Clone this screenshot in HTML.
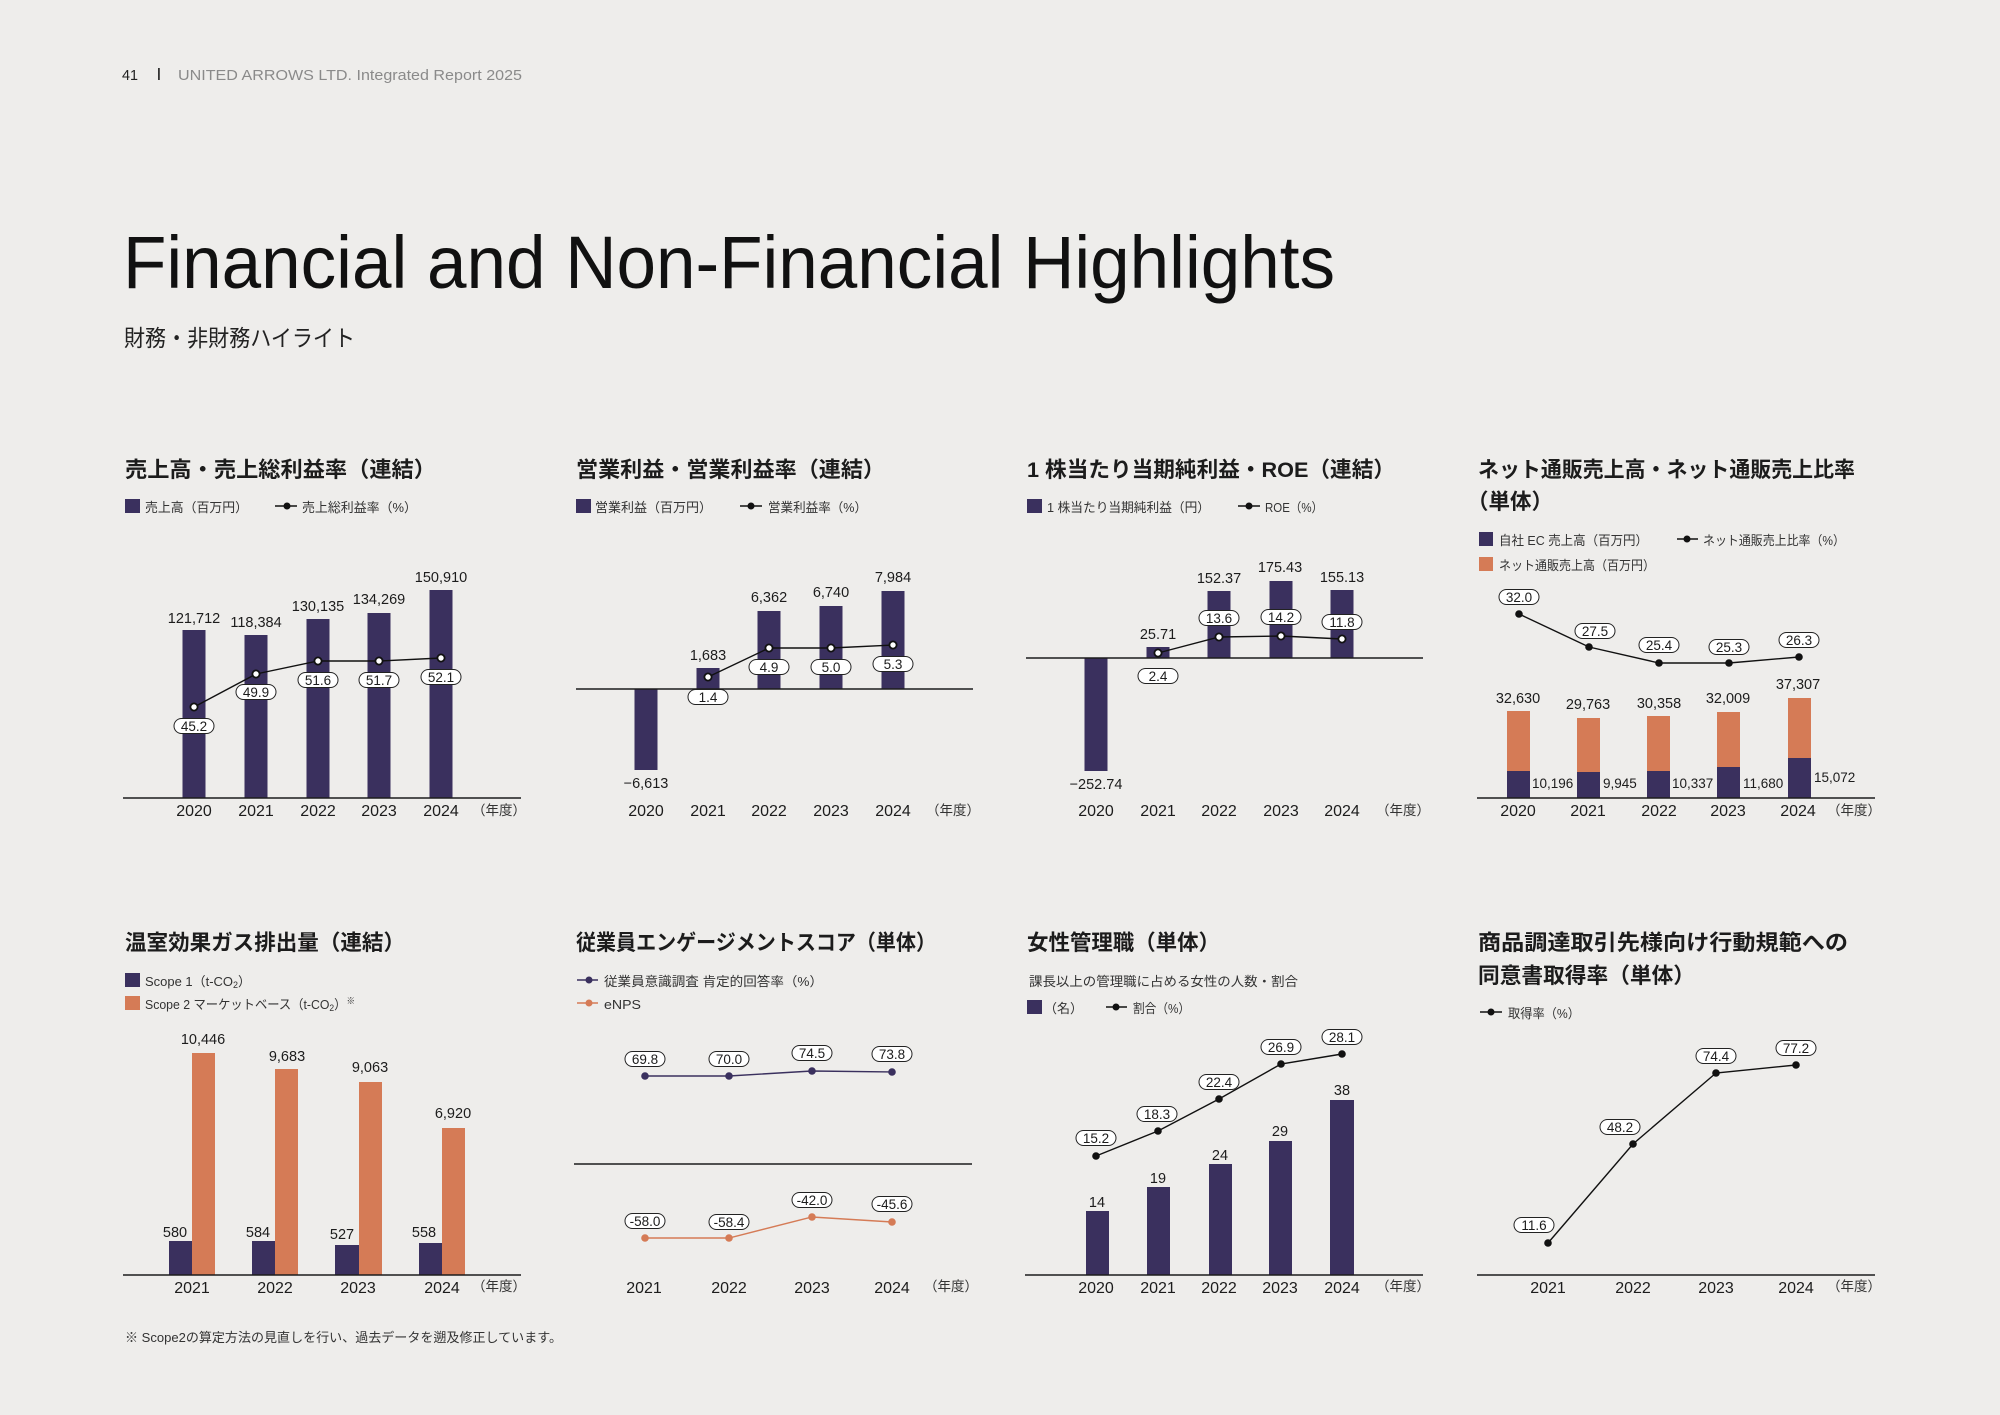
<!DOCTYPE html>
<html><head><meta charset="utf-8"><style>
html,body{margin:0;padding:0;background:#eeedeb;}
svg{display:block;}
text{font-family:"Liberation Sans","Noto Sans CJK JP",sans-serif;fill:#1c1c1c;}
.t{font-size:21.5px;font-weight:700;}
.lg{font-size:13px;fill:#333;}
.v{font-size:14.5px;text-anchor:middle;}
.vs{font-size:13.5px;}
.y{font-size:16px;text-anchor:middle;}
.nd{font-size:13.5px;text-anchor:middle;fill:#333;}
.p{font-size:13.5px;text-anchor:middle;}
.pill{fill:#fff;stroke:#222;stroke-width:1;}
.ax{stroke:#1c1c1c;stroke-width:1.4;}
.ln{fill:none;stroke:#111;stroke-width:1.4;}
.wd{fill:#fff;stroke:#111;stroke-width:1.8;}
.pu{fill:#3a305e;}
.or{fill:#d57b56;}
</style></head><body>
<svg width="2000" height="1415" viewBox="0 0 2000 1415" xmlns="http://www.w3.org/2000/svg">
<rect width="2000" height="1415" fill="#eeedeb"/>

<!-- Header -->
<text x="122" y="80" style="font-size:15px;fill:#222" textLength="16" lengthAdjust="spacingAndGlyphs">41</text>
<rect x="158" y="68" width="1.8" height="12" fill="#333"/>
<text x="178" y="80" style="font-size:15px;fill:#8a8a8a" textLength="344" lengthAdjust="spacingAndGlyphs">UNITED ARROWS LTD. Integrated Report 2025</text>
<text x="123" y="288" style="font-size:74px;fill:#111" textLength="1212" lengthAdjust="spacingAndGlyphs">Financial and Non-Financial Highlights</text>
<text x="124" y="346" style="font-size:23px;fill:#222" textLength="231" lengthAdjust="spacingAndGlyphs">財務・非財務ハイライト</text>

<!-- ===== Chart 1 ===== -->
<text class="t" x="125" y="477" textLength="311" lengthAdjust="spacingAndGlyphs">売上高・売上総利益率（連結）</text>
<rect class="pu" x="125" y="499" width="15" height="14"/>
<text class="lg" x="145" y="512" textLength="103" lengthAdjust="spacingAndGlyphs">売上高（百万円）</text>
<line x1="275" y1="506" x2="297" y2="506" stroke="#111" stroke-width="1.4"/><circle cx="287" cy="506" r="3.5" fill="#111"/>
<text class="lg" x="302" y="512" textLength="115" lengthAdjust="spacingAndGlyphs">売上総利益率（%）</text>
<rect class="pu" x="182.5" y="630" width="23" height="168"/>
<rect class="pu" x="244.5" y="635" width="23" height="163"/>
<rect class="pu" x="306.5" y="619" width="23" height="179"/>
<rect class="pu" x="367.5" y="613" width="23" height="185"/>
<rect class="pu" x="429.5" y="590" width="23" height="208"/>
<line class="ax" x1="123" y1="798" x2="521" y2="798"/>
<text class="v" x="194" y="623">121,712</text>
<text class="v" x="256" y="627">118,384</text>
<text class="v" x="318" y="611">130,135</text>
<text class="v" x="379" y="604">134,269</text>
<text class="v" x="441" y="582">150,910</text>
<path class="ln" d="M194,707 L256,674 L318,661 L379,661 L441,658"/>
<circle class="wd" cx="194" cy="707" r="3.6"/><circle class="wd" cx="256" cy="674" r="3.6"/><circle class="wd" cx="318" cy="661" r="3.6"/><circle class="wd" cx="379" cy="661" r="3.6"/><circle class="wd" cx="441" cy="658" r="3.6"/>
<rect class="pill" x="174" y="718.5" width="40" height="15" rx="7.5"/><text class="p" x="194" y="731">45.2</text>
<rect class="pill" x="236" y="684.5" width="40" height="15" rx="7.5"/><text class="p" x="256" y="697">49.9</text>
<rect class="pill" x="298" y="672.5" width="40" height="15" rx="7.5"/><text class="p" x="318" y="685">51.6</text>
<rect class="pill" x="359" y="672.5" width="40" height="15" rx="7.5"/><text class="p" x="379" y="685">51.7</text>
<rect class="pill" x="421" y="669.5" width="40" height="15" rx="7.5"/><text class="p" x="441" y="682">52.1</text>
<text class="y" x="194" y="816">2020</text><text class="y" x="256" y="816">2021</text><text class="y" x="318" y="816">2022</text><text class="y" x="379" y="816">2023</text><text class="y" x="441" y="816">2024</text>
<text class="nd" x="499" y="815">（年度）</text>

<!-- ===== Chart 2 ===== -->
<text class="t" x="576" y="477" textLength="309" lengthAdjust="spacingAndGlyphs">営業利益・営業利益率（連結）</text>
<rect class="pu" x="576" y="499" width="15" height="14"/>
<text class="lg" x="595" y="512" textLength="117" lengthAdjust="spacingAndGlyphs">営業利益（百万円）</text>
<line x1="740" y1="506" x2="762" y2="506" stroke="#111" stroke-width="1.4"/><circle cx="751" cy="506" r="3.5" fill="#111"/>
<text class="lg" x="768" y="512" textLength="99" lengthAdjust="spacingAndGlyphs">営業利益率（%）</text>
<rect class="pu" x="634.5" y="689" width="23" height="81"/>
<rect class="pu" x="696.5" y="668" width="23" height="21"/>
<rect class="pu" x="757.5" y="611" width="23" height="78"/>
<rect class="pu" x="819.5" y="606" width="23" height="83"/>
<rect class="pu" x="881.5" y="591" width="23" height="98"/>
<line class="ax" x1="576" y1="689" x2="973" y2="689"/>
<text class="v" x="646" y="788">−6,613</text>
<text class="v" x="708" y="660">1,683</text>
<text class="v" x="769" y="602">6,362</text>
<text class="v" x="831" y="597">6,740</text>
<text class="v" x="893" y="582">7,984</text>
<path class="ln" d="M708,677 L769,648 L831,648 L893,645"/>
<circle class="wd" cx="708" cy="677" r="3.6"/><circle class="wd" cx="769" cy="648" r="3.6"/><circle class="wd" cx="831" cy="648" r="3.6"/><circle class="wd" cx="893" cy="645" r="3.6"/>
<rect class="pill" x="688" y="689.5" width="40" height="15" rx="7.5"/><text class="p" x="708" y="702">1.4</text>
<rect class="pill" x="749" y="659.5" width="40" height="15" rx="7.5"/><text class="p" x="769" y="672">4.9</text>
<rect class="pill" x="811" y="659.5" width="40" height="15" rx="7.5"/><text class="p" x="831" y="672">5.0</text>
<rect class="pill" x="873" y="656.5" width="40" height="15" rx="7.5"/><text class="p" x="893" y="669">5.3</text>
<text class="y" x="646" y="816">2020</text><text class="y" x="708" y="816">2021</text><text class="y" x="769" y="816">2022</text><text class="y" x="831" y="816">2023</text><text class="y" x="893" y="816">2024</text>
<text class="nd" x="953" y="815">（年度）</text>

<!-- ===== Chart 3 ===== -->
<text class="t" x="1027" y="477" textLength="368" lengthAdjust="spacingAndGlyphs">1 株当たり当期純利益・ROE（連結）</text>
<rect class="pu" x="1027" y="499" width="15" height="14"/>
<text class="lg" x="1047" y="512" textLength="163" lengthAdjust="spacingAndGlyphs">1 株当たり当期純利益（円）</text>
<line x1="1238" y1="506" x2="1260" y2="506" stroke="#111" stroke-width="1.4"/><circle cx="1249" cy="506" r="3.5" fill="#111"/>
<text class="lg" x="1265" y="512" textLength="58" lengthAdjust="spacingAndGlyphs">ROE（%）</text>
<rect class="pu" x="1084.5" y="658" width="23" height="113"/>
<rect class="pu" x="1146.5" y="647" width="23" height="11"/>
<rect class="pu" x="1207.5" y="591" width="23" height="67"/>
<rect class="pu" x="1269.5" y="581" width="23" height="77"/>
<rect class="pu" x="1330.5" y="590" width="23" height="68"/>
<line class="ax" x1="1026" y1="658" x2="1423" y2="658"/>
<text class="v" x="1096" y="789">−252.74</text>
<text class="v" x="1158" y="639">25.71</text>
<text class="v" x="1219" y="583">152.37</text>
<text class="v" x="1280" y="572">175.43</text>
<text class="v" x="1342" y="582">155.13</text>
<path class="ln" d="M1158,653 L1219,637 L1281,636 L1342,639"/>
<circle class="wd" cx="1158" cy="653" r="3.6"/><circle class="wd" cx="1219" cy="637" r="3.6"/><circle class="wd" cx="1281" cy="636" r="3.6"/><circle class="wd" cx="1342" cy="639" r="3.6"/>
<rect class="pill" x="1138" y="668.5" width="40" height="15" rx="7.5"/><text class="p" x="1158" y="681">2.4</text>
<rect class="pill" x="1199" y="610.5" width="40" height="15" rx="7.5"/><text class="p" x="1219" y="623">13.6</text>
<rect class="pill" x="1261" y="609.5" width="40" height="15" rx="7.5"/><text class="p" x="1281" y="622">14.2</text>
<rect class="pill" x="1322" y="614.5" width="40" height="15" rx="7.5"/><text class="p" x="1342" y="627">11.8</text>
<text class="y" x="1096" y="816">2020</text><text class="y" x="1158" y="816">2021</text><text class="y" x="1219" y="816">2022</text><text class="y" x="1281" y="816">2023</text><text class="y" x="1342" y="816">2024</text>
<text class="nd" x="1403" y="815">（年度）</text>

<!-- ===== Chart 4 ===== -->
<text class="t" x="1478" y="477" textLength="377" lengthAdjust="spacingAndGlyphs">ネット通販売上高・ネット通販売上比率</text>
<text class="t" x="1467" y="509">（単体）</text>
<rect class="pu" x="1479" y="532" width="14" height="14"/>
<text class="lg" x="1499" y="545" textLength="149" lengthAdjust="spacingAndGlyphs">自社 EC 売上高（百万円）</text>
<line x1="1677" y1="539" x2="1698" y2="539" stroke="#111" stroke-width="1.4"/><circle cx="1687" cy="539" r="3.5" fill="#111"/>
<text class="lg" x="1703" y="545" textLength="142" lengthAdjust="spacingAndGlyphs">ネット通販売上比率（%）</text>
<rect class="or" x="1479" y="557" width="14" height="14"/>
<text class="lg" x="1499" y="570" textLength="156" lengthAdjust="spacingAndGlyphs">ネット通販売上高（百万円）</text>
<rect class="or" x="1507" y="711" width="23" height="60"/><rect class="pu" x="1507" y="771" width="23" height="27"/>
<rect class="or" x="1577" y="718" width="23" height="54"/><rect class="pu" x="1577" y="772" width="23" height="26"/>
<rect class="or" x="1647" y="716" width="23" height="55"/><rect class="pu" x="1647" y="771" width="23" height="27"/>
<rect class="or" x="1717" y="712" width="23" height="55"/><rect class="pu" x="1717" y="767" width="23" height="31"/>
<rect class="or" x="1788" y="698" width="23" height="60"/><rect class="pu" x="1788" y="758" width="23" height="40"/>
<line class="ax" x1="1477" y1="798" x2="1875" y2="798"/>
<text class="vs" x="1532" y="788">10,196</text>
<text class="vs" x="1603" y="788">9,945</text>
<text class="vs" x="1672" y="788">10,337</text>
<text class="vs" x="1743" y="788">11,680</text>
<text class="vs" x="1814" y="782">15,072</text>
<text class="v" x="1518" y="703">32,630</text>
<text class="v" x="1588" y="709">29,763</text>
<text class="v" x="1659" y="708">30,358</text>
<text class="v" x="1728" y="703">32,009</text>
<text class="v" x="1798" y="689">37,307</text>
<path class="ln" d="M1519,614 L1589,647 L1659,663 L1729,663 L1799,657"/>
<circle cx="1519" cy="614" r="3.8" fill="#111"/><circle cx="1589" cy="647" r="3.8" fill="#111"/><circle cx="1659" cy="663" r="3.8" fill="#111"/><circle cx="1729" cy="663" r="3.8" fill="#111"/><circle cx="1799" cy="657" r="3.8" fill="#111"/>
<rect class="pill" x="1499" y="589.5" width="40" height="15" rx="7.5"/><text class="p" x="1519" y="602">32.0</text>
<rect class="pill" x="1575" y="623.5" width="40" height="15" rx="7.5"/><text class="p" x="1595" y="636">27.5</text>
<rect class="pill" x="1639" y="637.5" width="40" height="15" rx="7.5"/><text class="p" x="1659" y="650">25.4</text>
<rect class="pill" x="1709" y="639.5" width="40" height="15" rx="7.5"/><text class="p" x="1729" y="652">25.3</text>
<rect class="pill" x="1779" y="632.5" width="40" height="15" rx="7.5"/><text class="p" x="1799" y="645">26.3</text>
<text class="y" x="1518" y="816">2020</text><text class="y" x="1588" y="816">2021</text><text class="y" x="1659" y="816">2022</text><text class="y" x="1728" y="816">2023</text><text class="y" x="1798" y="816">2024</text>
<text class="nd" x="1854" y="815">（年度）</text>

<!-- ===== Chart 5 ===== -->
<text class="t" x="125" y="950" textLength="280" lengthAdjust="spacingAndGlyphs">温室効果ガス排出量（連結）</text>
<rect class="pu" x="125" y="973" width="15" height="14"/>
<text class="lg" x="145" y="986" textLength="106" lengthAdjust="spacingAndGlyphs">Scope 1（t-CO<tspan font-size="9" dy="2">2</tspan><tspan dy="-2">）</tspan></text>
<rect class="or" x="125" y="996" width="15" height="14"/>
<text class="lg" x="145" y="1009" textLength="210" lengthAdjust="spacingAndGlyphs">Scope 2 マーケットベース（t-CO<tspan font-size="9" dy="2">2</tspan><tspan dy="-2">）</tspan><tspan font-size="9" dy="-5">※</tspan></text>
<rect class="pu" x="169" y="1241" width="23" height="34"/><rect class="or" x="192" y="1053" width="23" height="222"/>
<rect class="pu" x="252" y="1241" width="23" height="34"/><rect class="or" x="275" y="1069" width="23" height="206"/>
<rect class="pu" x="335" y="1245" width="24" height="30"/><rect class="or" x="359" y="1082" width="23" height="193"/>
<rect class="pu" x="419" y="1243" width="23" height="32"/><rect class="or" x="442" y="1128" width="23" height="147"/>
<line class="ax" x1="123" y1="1275" x2="521" y2="1275"/>
<text class="v" x="203" y="1044">10,446</text>
<text class="v" x="287" y="1061">9,683</text>
<text class="v" x="370" y="1072">9,063</text>
<text class="v" x="453" y="1118">6,920</text>
<text class="v" x="175" y="1237">580</text>
<text class="v" x="258" y="1237">584</text>
<text class="v" x="342" y="1239">527</text>
<text class="v" x="424" y="1237">558</text>
<text class="y" x="192" y="1293">2021</text><text class="y" x="275" y="1293">2022</text><text class="y" x="358" y="1293">2023</text><text class="y" x="442" y="1293">2024</text>
<text class="nd" x="499" y="1291">（年度）</text>
<text class="lg" x="125" y="1342" textLength="437" lengthAdjust="spacingAndGlyphs">※ Scope2の算定方法の見直しを行い、過去データを遡及修正しています。</text>

<!-- ===== Chart 6 ===== -->
<text class="t" x="576" y="950" textLength="360" lengthAdjust="spacingAndGlyphs">従業員エンゲージメントスコア（単体）</text>
<line x1="577" y1="980" x2="598" y2="980" stroke="#3a305e" stroke-width="1.6"/><circle cx="589" cy="980" r="3.5" fill="#3a305e"/>
<text class="lg" x="604" y="986" textLength="219" lengthAdjust="spacingAndGlyphs">従業員意識調査 肯定的回答率（%）</text>
<line x1="577" y1="1003" x2="598" y2="1003" stroke="#d57b56" stroke-width="1.6"/><circle cx="589" cy="1003" r="3.5" fill="#d57b56"/>
<text class="lg" x="604" y="1009" textLength="37" lengthAdjust="spacingAndGlyphs">eNPS</text>
<line class="ax" x1="574" y1="1164" x2="972" y2="1164"/>
<path d="M645,1076 L729,1076 L812,1071 L892,1072" fill="none" stroke="#3a305e" stroke-width="1.4"/>
<circle cx="645" cy="1076" r="3.8" fill="#3a305e"/><circle cx="729" cy="1076" r="3.8" fill="#3a305e"/><circle cx="812" cy="1071" r="3.8" fill="#3a305e"/><circle cx="892" cy="1072" r="3.8" fill="#3a305e"/>
<path d="M645,1238 L729,1238 L812,1217 L892,1222" fill="none" stroke="#d57b56" stroke-width="1.4"/>
<circle cx="645" cy="1238" r="3.8" fill="#d57b56"/><circle cx="729" cy="1238" r="3.8" fill="#d57b56"/><circle cx="812" cy="1217" r="3.8" fill="#d57b56"/><circle cx="892" cy="1222" r="3.8" fill="#d57b56"/>
<rect class="pill" x="625" y="1051.5" width="40" height="15" rx="7.5"/><text class="p" x="645" y="1064">69.8</text>
<rect class="pill" x="709" y="1051.5" width="40" height="15" rx="7.5"/><text class="p" x="729" y="1064">70.0</text>
<rect class="pill" x="792" y="1045.5" width="40" height="15" rx="7.5"/><text class="p" x="812" y="1058">74.5</text>
<rect class="pill" x="872" y="1046.5" width="40" height="15" rx="7.5"/><text class="p" x="892" y="1059">73.8</text>
<rect class="pill" x="625" y="1213.5" width="40" height="15" rx="7.5"/><text class="p" x="645" y="1226">-58.0</text>
<rect class="pill" x="709" y="1214.5" width="40" height="15" rx="7.5"/><text class="p" x="729" y="1227">-58.4</text>
<rect class="pill" x="792" y="1192.5" width="40" height="15" rx="7.5"/><text class="p" x="812" y="1205">-42.0</text>
<rect class="pill" x="872" y="1196.5" width="40" height="15" rx="7.5"/><text class="p" x="892" y="1209">-45.6</text>
<text class="y" x="644" y="1293">2021</text><text class="y" x="729" y="1293">2022</text><text class="y" x="812" y="1293">2023</text><text class="y" x="892" y="1293">2024</text>
<text class="nd" x="951" y="1291">（年度）</text>

<!-- ===== Chart 7 ===== -->
<text class="t" x="1027" y="950" textLength="193" lengthAdjust="spacingAndGlyphs">女性管理職（単体）</text>
<text class="lg" x="1029" y="986" textLength="269" lengthAdjust="spacingAndGlyphs">課長以上の管理職に占める女性の人数・割合</text>
<rect class="pu" x="1027" y="1000" width="15" height="14"/>
<text class="lg" x="1044" y="1013">（名）</text>
<line x1="1106" y1="1007" x2="1127" y2="1007" stroke="#111" stroke-width="1.4"/><circle cx="1116" cy="1007" r="3.5" fill="#111"/>
<text class="lg" x="1133" y="1013" textLength="57" lengthAdjust="spacingAndGlyphs">割合（%）</text>
<rect class="pu" x="1086" y="1211" width="23" height="64"/>
<rect class="pu" x="1147" y="1187" width="23" height="88"/>
<rect class="pu" x="1209" y="1164" width="23" height="111"/>
<rect class="pu" x="1269" y="1141" width="23" height="134"/>
<rect class="pu" x="1330" y="1100" width="24" height="175"/>
<line class="ax" x1="1025" y1="1275" x2="1423" y2="1275"/>
<text class="v" x="1097" y="1207">14</text>
<text class="v" x="1158" y="1183">19</text>
<text class="v" x="1220" y="1160">24</text>
<text class="v" x="1280" y="1136">29</text>
<text class="v" x="1342" y="1095">38</text>
<path class="ln" d="M1096,1156 L1158,1131 L1219,1099 L1281,1064 L1342,1054"/>
<circle cx="1096" cy="1156" r="3.8" fill="#111"/><circle cx="1158" cy="1131" r="3.8" fill="#111"/><circle cx="1219" cy="1099" r="3.8" fill="#111"/><circle cx="1281" cy="1064" r="3.8" fill="#111"/><circle cx="1342" cy="1054" r="3.8" fill="#111"/>
<rect class="pill" x="1076" y="1130.5" width="40" height="15" rx="7.5"/><text class="p" x="1096" y="1143">15.2</text>
<rect class="pill" x="1137" y="1106.5" width="40" height="15" rx="7.5"/><text class="p" x="1157" y="1119">18.3</text>
<rect class="pill" x="1199" y="1074.5" width="40" height="15" rx="7.5"/><text class="p" x="1219" y="1087">22.4</text>
<rect class="pill" x="1261" y="1039.5" width="40" height="15" rx="7.5"/><text class="p" x="1281" y="1052">26.9</text>
<rect class="pill" x="1322" y="1029.5" width="40" height="15" rx="7.5"/><text class="p" x="1342" y="1042">28.1</text>
<text class="y" x="1096" y="1293">2020</text><text class="y" x="1158" y="1293">2021</text><text class="y" x="1219" y="1293">2022</text><text class="y" x="1280" y="1293">2023</text><text class="y" x="1342" y="1293">2024</text>
<text class="nd" x="1403" y="1291">（年度）</text>

<!-- ===== Chart 8 ===== -->
<text class="t" x="1478" y="950" textLength="370" lengthAdjust="spacingAndGlyphs">商品調達取引先様向け行動規範への</text>
<text class="t" x="1478" y="983" textLength="217" lengthAdjust="spacingAndGlyphs">同意書取得率（単体）</text>
<line x1="1480" y1="1012" x2="1502" y2="1012" stroke="#111" stroke-width="1.4"/><circle cx="1491" cy="1012" r="3.5" fill="#111"/>
<text class="lg" x="1508" y="1018" textLength="72" lengthAdjust="spacingAndGlyphs">取得率（%）</text>
<line class="ax" x1="1477" y1="1275" x2="1875" y2="1275"/>
<path class="ln" d="M1548,1243 L1633,1144 L1716,1073 L1796,1065"/>
<circle cx="1548" cy="1243" r="3.8" fill="#111"/><circle cx="1633" cy="1144" r="3.8" fill="#111"/><circle cx="1716" cy="1073" r="3.8" fill="#111"/><circle cx="1796" cy="1065" r="3.8" fill="#111"/>
<rect class="pill" x="1514" y="1217.5" width="40" height="15" rx="7.5"/><text class="p" x="1534" y="1230">11.6</text>
<rect class="pill" x="1600" y="1119.5" width="40" height="15" rx="7.5"/><text class="p" x="1620" y="1132">48.2</text>
<rect class="pill" x="1696" y="1048.5" width="40" height="15" rx="7.5"/><text class="p" x="1716" y="1061">74.4</text>
<rect class="pill" x="1776" y="1040.5" width="40" height="15" rx="7.5"/><text class="p" x="1796" y="1053">77.2</text>
<text class="y" x="1548" y="1293">2021</text><text class="y" x="1633" y="1293">2022</text><text class="y" x="1716" y="1293">2023</text><text class="y" x="1796" y="1293">2024</text>
<text class="nd" x="1854" y="1291">（年度）</text>
</svg>
</body></html>
